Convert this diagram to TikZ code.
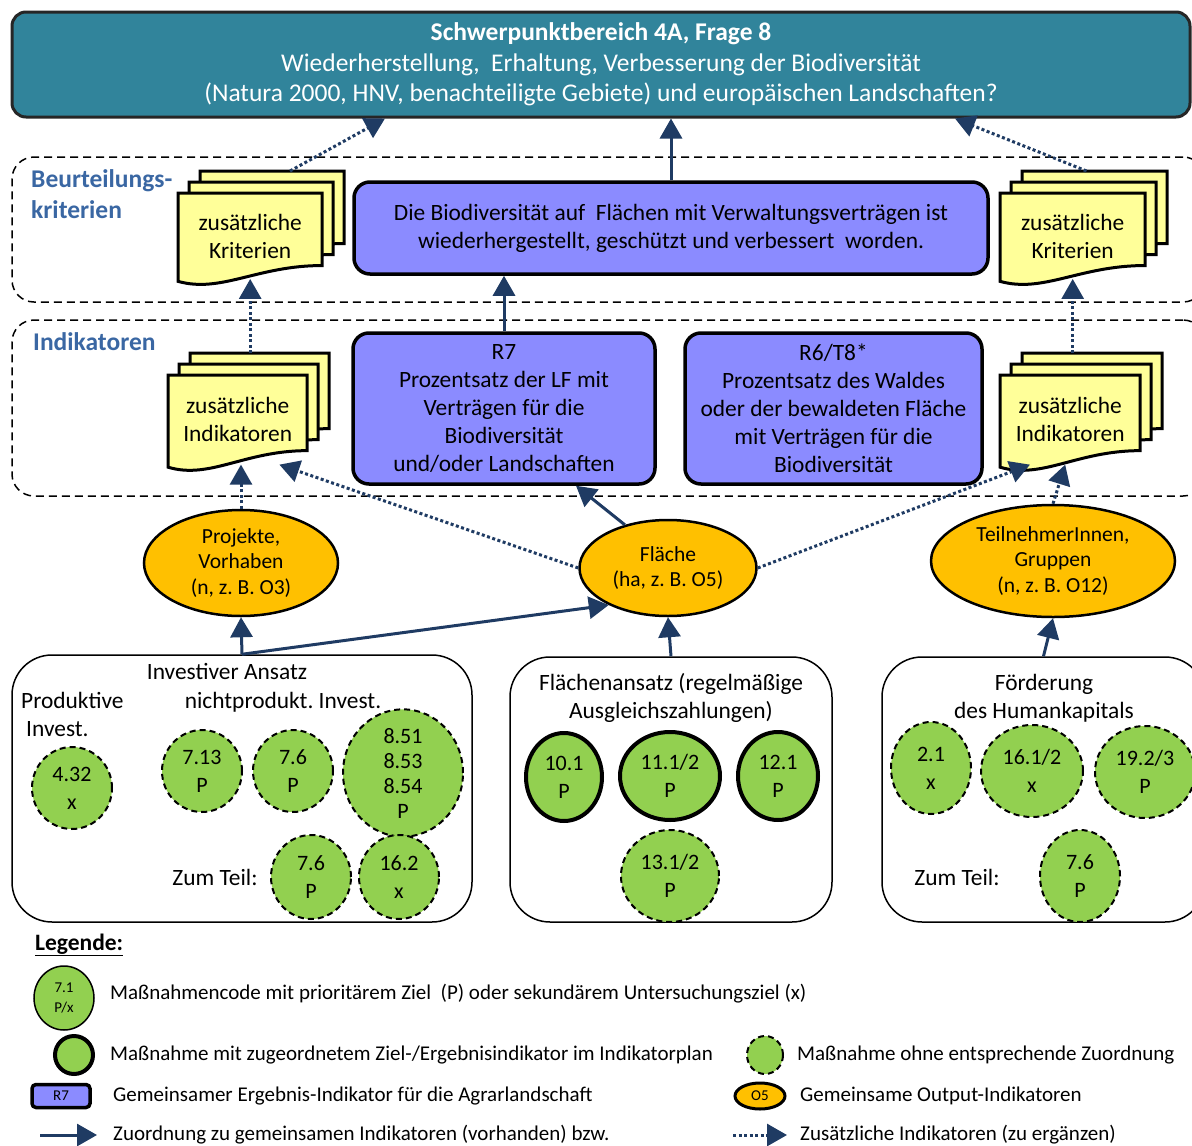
\documentclass[tikz,border=0pt]{standalone}
\usepackage{fontspec}
\setmainfont{Carlito}
\usetikzlibrary{shapes.geometric}
\usetikzlibrary{arrows.meta}
\usetikzlibrary{positioning}
\frenchspacing

\definecolor{headteal}{HTML}{31849B}
\definecolor{respurple}{HTML}{8B8BFF}
\definecolor{outorange}{HTML}{FFC000}
\definecolor{measgreen}{HTML}{92D050}
\definecolor{docyellow}{HTML}{FFFF99}
\definecolor{linknavy}{HTML}{1F3B63}
\definecolor{zoneblue}{HTML}{3A67A3}

\newcommand{\docstack}[6]{
    \foreach \k in {2,1,0}{
        \begin{scope}[shift={({#2+11*\k},{#3-11*\k})}]
            \filldraw[docpage] (0,0) -- (#4,0) -- (#4,{0.78*#5}) .. controls ({0.55*#4},{0.78*#5}) and ({0.3*#4},{1.08*#5}) .. (0,{0.95*#5}) -- cycle;
        \end{scope}
    }
    \node[doctext, minimum width=#4, minimum height={0.92*#5}, anchor=north west] (#1) at (#2,#3) {#6};
    \coordinate (#1-top) at ({#2+22+#4/2},{#3-22});
}

\tikzset{
    body/.style={font=\fontsize{23.4}{28}\selectfont},
    plain/.style={body, inner sep=0pt, align=center},
    header/.style={draw=black!85, line width=3pt, rounded corners=14pt, fill=headteal, text=white, align=center, inner sep=0pt, font=\fontsize{25.5}{30.5}\selectfont},
    zone/.style={draw, line width=1.5pt, dash pattern=on 8pt off 5pt, rounded corners=22pt, inner sep=0pt},
    zonelabel/.style={text=zoneblue, inner sep=0pt, align=left, font=\bfseries\fontsize{25.5}{31}\selectfont},
    result/.style={body, draw, line width=3.5pt, rounded corners=16pt, fill=respurple, align=center, inner sep=0pt},
    output/.style={draw, ellipse, line width=2.5pt, fill=outorange, align=center, inner sep=0pt, font=\fontsize{21.5}{25.5}\selectfont},
    approach/.style={draw, line width=1.5pt, rounded corners=40pt, inner sep=0pt},
    measure/.style={ellipse, fill=measgreen, align=center, inner sep=0pt, font=\fontsize{22}{28}\selectfont},
    planned/.style={draw, line width=4pt},
    unplanned/.style={draw, line width=2pt, dash pattern=on 6pt off 4pt},
    docpage/.style={fill=docyellow, draw, line width=3pt, line join=miter},
    doctext/.style={body, inner sep=0pt, align=center},
    link/.style={draw=linknavy, line width=3pt, -{Triangle[length=20pt,width=22pt]}},
    extra/.style={link, dash pattern=on 3pt off 2.5pt},
    legtext/.style={anchor=west, inner sep=0pt, font=\fontsize{21}{24}\selectfont}
}

\begin{document}
\begin{tikzpicture}[x=1pt, y=-1pt]
    \useasboundingbox (0,0) rectangle (1192,1146);
    \clip (0,0) rectangle (1192,1146);

    \node[header, minimum width=1178, minimum height=105] (head) at (601,64.5) {\textbf{Schwerpunktbereich 4A, Frage 8}\\Wiederherstellung,\ \ Erhaltung, Verbesserung der Biodiversität\\(Natura 2000, HNV, benachteiligte Gebiete) und europäischen Landschaften?};

    \node[zone, minimum width=1193, minimum height=145] (zcrit) at (608.5,229.5) {};
    \node[zone, minimum width=1193, minimum height=176] (zind) at (608.5,408) {};
    \node[zonelabel, anchor=west] (lblcrit) at (31,194) {Beurteilungs-\\kriterien};
    \node[zonelabel, anchor=west] (lblind) at (33,342) {Indikatoren};

    \node[result, minimum width=634, minimum height=92] (crit) at (671,228) {Die Biodiversität auf\ \ Flächen mit Verwaltungsverträgen ist\\wiederhergestellt, geschützt und verbessert\ \ worden.};
    \node[result, minimum width=302, minimum height=151] (r7) at (504,408.5) {R7\\Prozentsatz der LF mit\\Verträgen für die\\Biodiversität\\und/oder Landschaften};
    \node[result, minimum width=297, minimum height=151] (r6) at (833.5,408.5) {R6/T8*\\Prozentsatz des Waldes\\oder der bewaldeten Fläche\\mit Verträgen für die\\Biodiversität};

    \docstack{critL}{178}{193}{144}{93}{zusätzliche\\Kriterien}
    \docstack{critR}{1000}{193}{145}{93}{zusätzliche\\Kriterien}
    \docstack{indL}{168}{375}{139}{97}{zusätzliche\\Indikatoren}
    \docstack{indR}{1000}{375}{140}{97}{zusätzliche\\Indikatoren}

    \node[output, minimum width=194, minimum height=106] (proj) at (241,563) {Projekte,\\Vorhaben\\(n, z. B. O3)};
    \node[output, minimum width=177, minimum height=96] (fl) at (668,568) {Fläche\\(ha, z. B. O5)};
    \node[output, minimum width=244, minimum height=112] (teil) at (1053,561) {TeilnehmerInnen,\\Gruppen\\(n, z. B. O12)};

    \node[approach, minimum width=460, minimum height=267] (inv) at (242,788.5) {};
    \node[approach, minimum width=322, minimum height=265] (flbox) at (671,789.5) {};
    \node[approach, minimum width=323, minimum height=265] (human) at (1043.5,789.5) {};

    \node[plain] (invtitle) at (227,671) {Investiver Ansatz};
    \node[plain, align=left, anchor=west] (prodinv) at (21,714) {Produktive\\\hspace{5pt}Invest.};
    \node[plain] (nprod) at (283,702) {nichtprodukt. Invest.};
    \node[plain] (zumteilA) at (215,877) {Zum Teil:};
    \node[plain] (fltitle) at (671,698) {Flächenansatz (regelmäßige\\Ausgleichszahlungen)};
    \node[plain] (humtitle) at (1044,698) {Förderung\\des Humankapitals};
    \node[plain] (zumteilB) at (957,877) {Zum Teil:};

    \node[measure, unplanned, minimum width=80, minimum height=82] (m432) at (72,788) {4.32\\x};
    \node[measure, unplanned, minimum width=80, minimum height=82] (m713) at (202,771) {7.13\\P};
    \node[measure, unplanned, minimum width=80, minimum height=82] (m76a) at (293,771) {7.6\\P};
    \node[measure, unplanned, minimum width=120, minimum height=120, font=\fontsize{22}{25}\selectfont] (m85) at (403,773) {8.51\\8.53\\8.54\\P};
    \node[measure, unplanned, minimum width=80, minimum height=84] (m76b) at (311,877) {7.6\\P};
    \node[measure, unplanned, minimum width=80, minimum height=84] (m162) at (399,877) {16.2\\x};

    \node[measure, planned, minimum width=76, minimum height=88] (m101) at (564,777) {10.1\\P};
    \node[measure, planned, minimum width=100, minimum height=88] (m111) at (670,776) {11.1/2\\P};
    \node[measure, planned, minimum width=80, minimum height=88] (m121) at (778,776) {12.1\\P};
    \node[measure, unplanned, minimum width=98, minimum height=92] (m131) at (670,876) {13.1/2\\P};

    \node[measure, unplanned, minimum width=80, minimum height=92] (m21) at (931,768) {2.1\\x};
    \node[measure, unplanned, minimum width=102, minimum height=92] (m161) at (1032,771) {16.1/2\\x};
    \node[measure, unplanned, minimum width=100, minimum height=92] (m192) at (1145,772) {19.2/3\\P};
    \node[measure, unplanned, minimum width=80, minimum height=92] (m76c) at (1080,876) {7.6\\P};

    \draw[link] (crit.north) -- (crit.north |- head.south);
    \draw[link] (r7.north) -- (r7.north |- crit.south);
    \draw[link] (fl.135) -- ([xshift=72pt]r7.south);
    \draw[link] (inv.north) -- (proj.south);
    \draw[link] (inv.north) -- (fl.212);
    \draw[link] (flbox.north) -- (fl.south);
    \draw[link] (human.north) -- (teil.south);

    \draw[extra] ([xshift=18pt]critL-top) -- ([xshift=-216pt]head.south);
    \draw[extra] ([xshift=-8pt]critR-top) -- ([xshift=354pt]head.south);
    \draw[extra] (critL.south |- indL-top) -- (critL.south);
    \draw[extra] (critR.south |- indR-top) -- (critR.south);
    \draw[extra] (proj.north) -- (proj.north |- indL.south);
    \draw[extra] (fl.west) -- ([xshift=-28pt]indL.south east);
    \draw[extra] (fl.east) -- ([xshift=30pt]indR.south west);
    \draw[extra] (teil.north) -- ([xshift=-5pt]indR.south);

    \node[anchor=west, inner sep=0pt, font=\bfseries\fontsize{23.5}{26}\selectfont] (legtitle) at (35,945) {\underline{Legende:}};
    \node[measure, draw, line width=1.5pt, minimum width=60, minimum height=64, font=\fontsize{15}{20}\selectfont] (lgcode) at (64,998) {7.1\\P/x};
    \node[legtext] (lgcodetxt) at (110,994) {Maßnahmencode mit prioritärem Ziel\ \ (P) oder sekundärem Untersuchungsziel (x)};
    \node[measure, planned, minimum width=38, minimum height=38] (lgplan) at (74,1055) {};
    \node[legtext] (lgplantxt) at (110,1055) {Maßnahme mit zugeordnetem Ziel-/Ergebnisindikator im Indikatorplan};
    \node[measure, unplanned, minimum width=36, minimum height=38] (lgunplan) at (765,1055) {};
    \node[legtext] (lgunplantxt) at (797,1055) {Maßnahme ohne entsprechende Zuordnung};
    \node[draw, line width=3.5pt, rounded corners=4pt, fill=respurple, minimum width=58, minimum height=23, inner sep=0pt, font=\fontsize{15}{16}\selectfont] (lgres) at (61,1096) {R7};
    \node[legtext] (lgrestxt) at (113,1096) {Gemeinsamer Ergebnis-Indikator für die Agrarlandschaft};
    \node[output, line width=3pt, minimum width=50, minimum height=26, font=\fontsize{15}{16}\selectfont] (lgout) at (760,1096) {O5};
    \node[legtext] (lgouttxt) at (800,1096) {Gemeinsame Output-Indikatoren};
    \coordinate (lgA1) at (40,1135);
    \coordinate (lgA2) at (97,1135);
    \draw[link] (lgA1) -- (lgA2);
    \node[legtext] (lglinktxt) at (113,1135) {Zuordnung zu gemeinsamen Indikatoren (vorhanden) bzw.};
    \coordinate (lgB1) at (733,1135);
    \coordinate (lgB2) at (787,1135);
    \draw[extra] (lgB1) -- (lgB2);
    \node[legtext] (lgextratxt) at (800,1135) {Zusätzliche Indikatoren (zu ergänzen)};
\end{tikzpicture}
\end{document}
